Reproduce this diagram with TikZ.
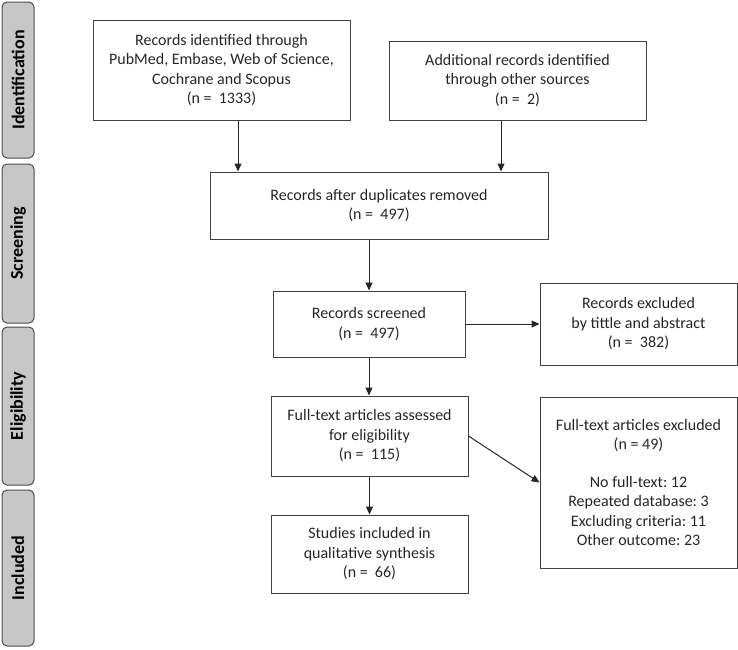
\documentclass[tikz,border=0pt]{standalone}
\usepackage{fontspec}
\setmainfont{Carlito}
\usetikzlibrary{arrows.meta}

\begin{document}
\begin{tikzpicture}[
    x=1pt, y=-1pt,
    box/.style={draw=black!75, line width=1pt, align=center, text=black!85, inner sep=0pt, font=\fontsize{16}{19.5}\selectfont},
    phase/.style={draw=black!70, fill=black!22, rounded corners=5pt, line width=1pt, rotate=90, minimum height=32pt, inner sep=0pt, font=\fontsize{18}{20}\selectfont\bfseries},
    arr/.style={-{Triangle[length=8pt, width=7pt]}, line width=1pt, draw=black!85}
]
   \useasboundingbox (0,0) rectangle (738,649);

   % Phase labels
   \node[phase, minimum width=156pt] (ident) at (18,80) {Identification};
   \node[phase, minimum width=159pt] (screen) at (18,243.5) {Screening};
   \node[phase, minimum width=158pt] (elig) at (18,406) {Eligibility};
   \node[phase, minimum width=156pt] (incl) at (18,568) {Included};

   % Boxes
   \node[box, minimum width=257pt, minimum height=100pt] (dbs) at (221.5,70)
      {Records identified through\\PubMed, Embase, Web of Science,\\Cochrane and Scopus\\(n =~~1333)};
   \node[box, minimum width=257pt, minimum height=79pt] (other) at (517.5,80.5)
      {Additional records identified\\through other sources\\(n =~~2)};
   \node[box, minimum width=338pt, minimum height=67pt] (dedup) at (379,205.5)
      {Records after duplicates removed\\(n =~~497)};
   \node[box, minimum width=192pt, minimum height=66pt] (screened) at (369,324)
      {Records screened\\(n =~~497)};
   \node[box, minimum width=197pt, minimum height=82pt] (exTitle) at (638.5,324)
      {Records excluded\\by tittle and abstract\\(n =~~382)};
   \node[box, minimum width=197pt, minimum height=80pt] (fulltext) at (369.5,436)
      {Full-text articles assessed\\for eligibility\\(n =~~115)};
   \node[box, minimum width=197pt, minimum height=78pt] (included) at (369.5,554)
      {Studies included in\\qualitative synthesis\\(n =~~66)};
   \node[box, minimum width=197pt, minimum height=171pt] (exFull) at (638.5,482.5)
      {Full-text articles excluded\\(n =~49)\\[18pt]No full-text:~12\\Repeated database:~3\\Excluding criteria:~11\\Other outcome:~23};

   % Arrows
   \draw[arr] ([xshift=16.5pt]dbs.south) -- ([xshift=16.5pt]dbs.south |- dedup.north);
   \draw[arr] ([xshift=-16.5pt]other.south) -- ([xshift=-16.5pt]other.south |- dedup.north);
   \draw[arr] (screened.north |- dedup.south) -- (screened.north);
   \draw[arr] (screened) -- (exTitle);
   \draw[arr] (screened.south) -- (screened.south |- fulltext.north);
   \draw[arr] (fulltext) -- (included);
   \draw[arr] (fulltext.east) -- (exFull.west);
\end{tikzpicture}
\end{document}
